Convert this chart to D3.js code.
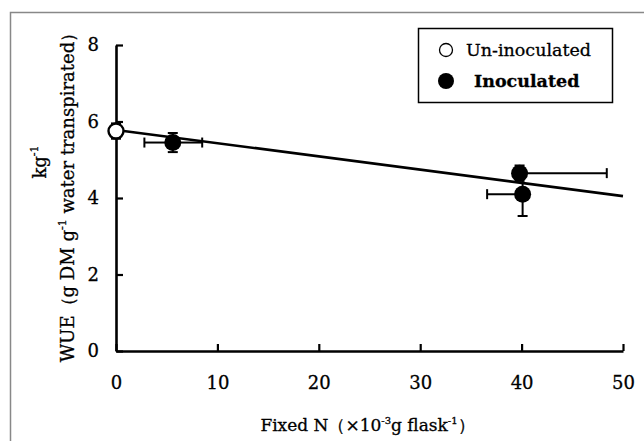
<!DOCTYPE html>
<html>
<head>
<meta charset="utf-8">
<script src="https://cdn.jsdelivr.net/npm/d3@7"></script>
<style>
  html, body { margin: 0; padding: 0; background: #fff; }
  svg text { font-family: "DejaVu Serif", "Liberation Serif", serif; fill: #000; stroke: #000; stroke-width: 0.3px; }
</style>
</head>
<body>
<div id="chart"></div>
<script>
// Un-inoculated control (open circle)
const unX = [0];
const unY = [5.75];
const unYErr = [0.2];

// Inoculated treatments (filled circles); error bars as [minus, plus]
const inX = [5.6, 39.8, 40.1];
const inY = [5.45, 4.65, 4.1];
const inXErrMinus = [2.8, 0, 3.5];
const inXErrPlus = [2.9, 8.6, 0];
const inYErrMinus = [0.25, 0.2, 0.57];
const inYErrPlus = [0.25, 0.2, 0.57];

// regression line end points
const trendX = [0, 50];
const trendY = [5.78, 4.05];

const xTicks = [0, 10, 20, 30, 40, 50];
const yTicks = [0, 2, 4, 6, 8];
const legendLabels = ["Un-inoculated", "Inoculated"];

const W = 644, H = 441;
const margin = { top: 45, right: 21, bottom: 90, left: 116 };
const width = W - margin.left - margin.right;
const height = H - margin.top - margin.bottom;

const xScale = d3.scaleLinear().domain([0, 50]).range([0, width]);
const yScale = d3.scaleLinear().domain([0, 8]).range([height, 0]);

const root = d3.select("#chart").append("svg")
  .attr("width", W)
  .attr("height", H);

// outer frame (only top and left edges are visible)
root.append("path")
  .attr("d", `M10.5,${H} V12.5 H${W}`)
  .attr("fill", "none")
  .attr("stroke", "#888")
  .attr("stroke-width", 1.5);

const svg = root.append("g")
  .attr("transform", `translate(${margin.left},${margin.top})`);

// Axes
const xAxis = svg.append("g")
  .attr("transform", `translate(0,${height})`)
  .call(d3.axisBottom(xScale).tickValues(xTicks).tickSize(-7).tickSizeOuter(0).tickPadding(25));
const yAxis = svg.append("g")
  .call(d3.axisLeft(yScale).tickValues(yTicks).tickSize(-7).tickSizeOuter(0).tickPadding(17));

[xAxis, yAxis].forEach(ax => {
  ax.select(".domain").attr("stroke", "#000").attr("stroke-width", 2.6);
  ax.selectAll(".tick line").attr("stroke", "#000").attr("stroke-width", 2.2);
  ax.selectAll(".tick text")
    .attr("font-family", "DejaVu Serif, Liberation Serif, serif")
    .attr("font-size", "18px")
    .attr("fill", "#000");
});

// Axis labels
const xLabel = svg.append("text")
  .attr("x", width / 2 - 2)
  .attr("y", height + 80)
  .attr("text-anchor", "middle")
  .attr("font-size", "17px");
xLabel.append("tspan").text("Fixed N（×10");
xLabel.append("tspan").attr("font-size", "10px").attr("dy", -7).text("-3");
xLabel.append("tspan").attr("dy", 7).text("g flask");
xLabel.append("tspan").attr("font-size", "10px").attr("dy", -7).text("-1");
xLabel.append("tspan").attr("dy", 7).text("）");

const yLabel = svg.append("text")
  .attr("transform", `translate(${-42},${148}) rotate(-90)`)
  .attr("text-anchor", "middle")
  .attr("font-size", "18px");
yLabel.append("tspan").text("WUE（g DM g");
yLabel.append("tspan").attr("font-size", "11px").attr("dy", -8).text("-1");
yLabel.append("tspan").attr("dy", 8).text(" water transpirated）");

const yLabel2 = svg.append("text")
  .attr("transform", `translate(${-70},${117}) rotate(-90)`)
  .attr("text-anchor", "middle")
  .attr("font-size", "18px");
yLabel2.append("tspan").text("kg");
yLabel2.append("tspan").attr("font-size", "11px").attr("dy", -8).text("-1");

// Regression line
const line = d3.line().x(d => xScale(d[0])).y(d => yScale(d[1]));
svg.append("path")
  .datum(trendX.map((x, i) => [x, trendY[i]]))
  .attr("d", line)
  .attr("fill", "none")
  .attr("stroke", "#000")
  .attr("stroke-width", 2.6);

// Error bars
const cap = 5;
const bars = svg.append("g").attr("stroke", "#000").attr("stroke-width", 2);
function hBar(x0, x1, y) {
  if (x0 === x1) return;
  bars.append("line").attr("x1", xScale(x0)).attr("x2", xScale(x1)).attr("y1", yScale(y)).attr("y2", yScale(y));
  bars.append("line").attr("x1", xScale(x1)).attr("x2", xScale(x1)).attr("y1", yScale(y) - cap).attr("y2", yScale(y) + cap);
}
function vBar(x, y0, y1) {
  if (y0 === y1) return;
  bars.append("line").attr("x1", xScale(x)).attr("x2", xScale(x)).attr("y1", yScale(y0)).attr("y2", yScale(y1));
  bars.append("line").attr("x1", xScale(x) - cap).attr("x2", xScale(x) + cap).attr("y1", yScale(y1)).attr("y2", yScale(y1));
}
inX.forEach((x, i) => {
  hBar(x, x - inXErrMinus[i], inY[i]);
  hBar(x, x + inXErrPlus[i], inY[i]);
  vBar(x, inY[i], inY[i] - inYErrMinus[i]);
  vBar(x, inY[i], inY[i] + inYErrPlus[i]);
});
unX.forEach((x, i) => {
  vBar(x, unY[i], unY[i] + unYErr[i]);
  vBar(x, unY[i], unY[i] - unYErr[i]);
});

// Points
svg.selectAll(".pt-in")
  .data(inX.map((x, i) => [x, inY[i]]))
  .join("circle")
  .attr("cx", d => xScale(d[0]))
  .attr("cy", d => yScale(d[1]))
  .attr("r", 8.5)
  .attr("fill", "#000");

svg.selectAll(".pt-un")
  .data(unX.map((x, i) => [x, unY[i]]))
  .join("circle")
  .attr("cx", d => xScale(d[0]))
  .attr("cy", d => yScale(d[1]))
  .attr("r", 7.5)
  .attr("fill", "#fff")
  .attr("stroke", "#000")
  .attr("stroke-width", 2.4);

// Legend
const legend = root.append("g").attr("transform", "translate(418,28)");
legend.append("rect")
  .attr("x", 0.5).attr("y", 0.5)
  .attr("width", 194).attr("height", 74)
  .attr("fill", "#fff")
  .attr("stroke", "#000")
  .attr("stroke-width", 1.5);
legendLabels.forEach((lab, i) => {
  const g = legend.append("g").attr("transform", `translate(0,${22 + i * 31})`);
  g.append("circle")
    .attr("cx", 28).attr("cy", 0).attr("r", i === 0 ? 6.5 : 8)
    .attr("fill", i === 0 ? "#fff" : "#000")
    .attr("stroke", "#000")
    .attr("stroke-width", i === 0 ? 1.3 : 0);
  g.append("text")
    .attr("x", i === 0 ? 48 : 56)
    .attr("y", 6)
    .attr("font-size", "17.5px")
    .attr("font-weight", i === 0 ? "normal" : "bold")
    .text(lab);
});
</script>
</body>
</html>
